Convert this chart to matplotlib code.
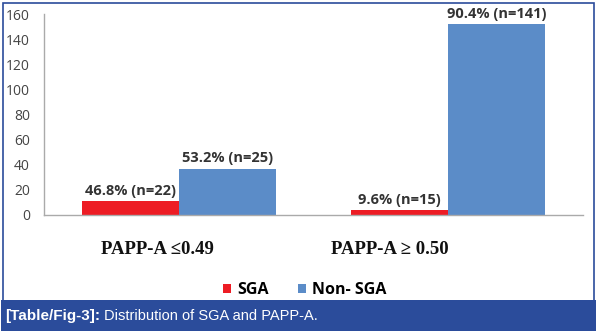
import matplotlib.pyplot as plt
import numpy as np
from matplotlib.patches import Rectangle

groups = ['PAPP-A \u22640.49', 'PAPP-A \u2265 0.50']
series = ['SGA', 'Non- SGA']
sga = [11, 4]
non_sga = [37, 152]
sga_labels = ['46.8% (n=22)', '9.6% (n=15)']
non_sga_labels = ['53.2% (n=25)', '90.4% (n=141)']
yticks = [0, 20, 40, 60, 80, 100, 120, 140, 160]

W, H = 597, 333
red = '#ed1c24'
blue = '#5b8cc8'
navy = '#2b4c9b'

fig = plt.figure(figsize=(W / 100, H / 100), dpi=100)
fig.patch.set_facecolor('white')

def px(x0, y0, w, h):
    # pixel box (top-left origin) -> figure fraction
    return [x0 / W, 1 - (y0 + h) / H, w / W, h / H]

# outer frame and caption bar
fig.patches.append(Rectangle((2.5 / W, 1 - 301 / H), 591 / W, 298.5 / H, transform=fig.transFigure,
                             fill=False, edgecolor=navy, linewidth=1.2))
fig.patches.append(Rectangle((1 / W, 1 - 331 / H), 595 / W, 31 / H, transform=fig.transFigure,
                             facecolor=navy, edgecolor='none'))
cap = fig.text(5 / W, 1 - 316 / H, '[Table/Fig-3]:', color='white', fontsize=11, fontweight='bold',
               family='Liberation Sans', va='center', ha='left')
fig.add_artist(plt.Annotation('Distribution of SGA and PAPP-A.', xy=(1, 0.5), xycoords=cap,
                              xytext=(3, 0), textcoords='offset points', color='white', fontsize=10.5,
                              family='Liberation Sans', va='center', ha='left'))

ax = fig.add_axes(px(44, 14, 539, 201))
x = np.arange(len(groups))
bw = 0.36
b1 = ax.bar(x - bw / 2, sga, bw, color=red, label=series[0])
b2 = ax.bar(x + bw / 2, non_sga, bw, color=blue, label=series[1])

for bars, labels in ((b1, sga_labels), (b2, non_sga_labels)):
    for rect, lab in zip(bars, labels):
        ax.text(rect.get_x() + rect.get_width() / 2, rect.get_height() + 2.5, lab,
                ha='center', va='bottom', fontsize=10.5, fontweight='bold', color='#333333',
                family='Open Sans')

ax.set_xlim(-0.5, 1.5)
ax.set_ylim(0, 160)
ax.set_yticks(yticks)
ax.set_yticklabels([str(t) for t in yticks], fontsize=10, color='#444444', family='Open Sans')
ax.tick_params(axis='y', length=0, pad=10)
ax.set_xticks([])
for s in ('top', 'right'):
    ax.spines[s].set_visible(False)
for s in ('left', 'bottom'):
    ax.spines[s].set_color('#aaaaaa')
    ax.spines[s].set_linewidth(1)

# category labels, as laid out in the original chart
offsets = [-0.08, -0.216]
for i, (g, off) in enumerate(zip(groups, offsets)):
    ax.text(i + off, -0.17, g, transform=ax.get_xaxis_transform(), ha='center', va='center',
            fontsize=13.5, fontweight='bold', family=['Liberation Serif', 'DejaVu Serif'],
            color='#111111')

leg = fig.legend(handles=[b1, b2], labels=series, loc='center', bbox_to_anchor=(305 / W, 1 - 290 / H),
                 ncol=2, frameon=False, handlelength=0.5, handleheight=0.5, handletextpad=0.4,
                 columnspacing=1.8, prop={'family': 'Open Sans', 'weight': 'bold', 'size': 11.5})

fig.savefig('out.png', dpi=100)
